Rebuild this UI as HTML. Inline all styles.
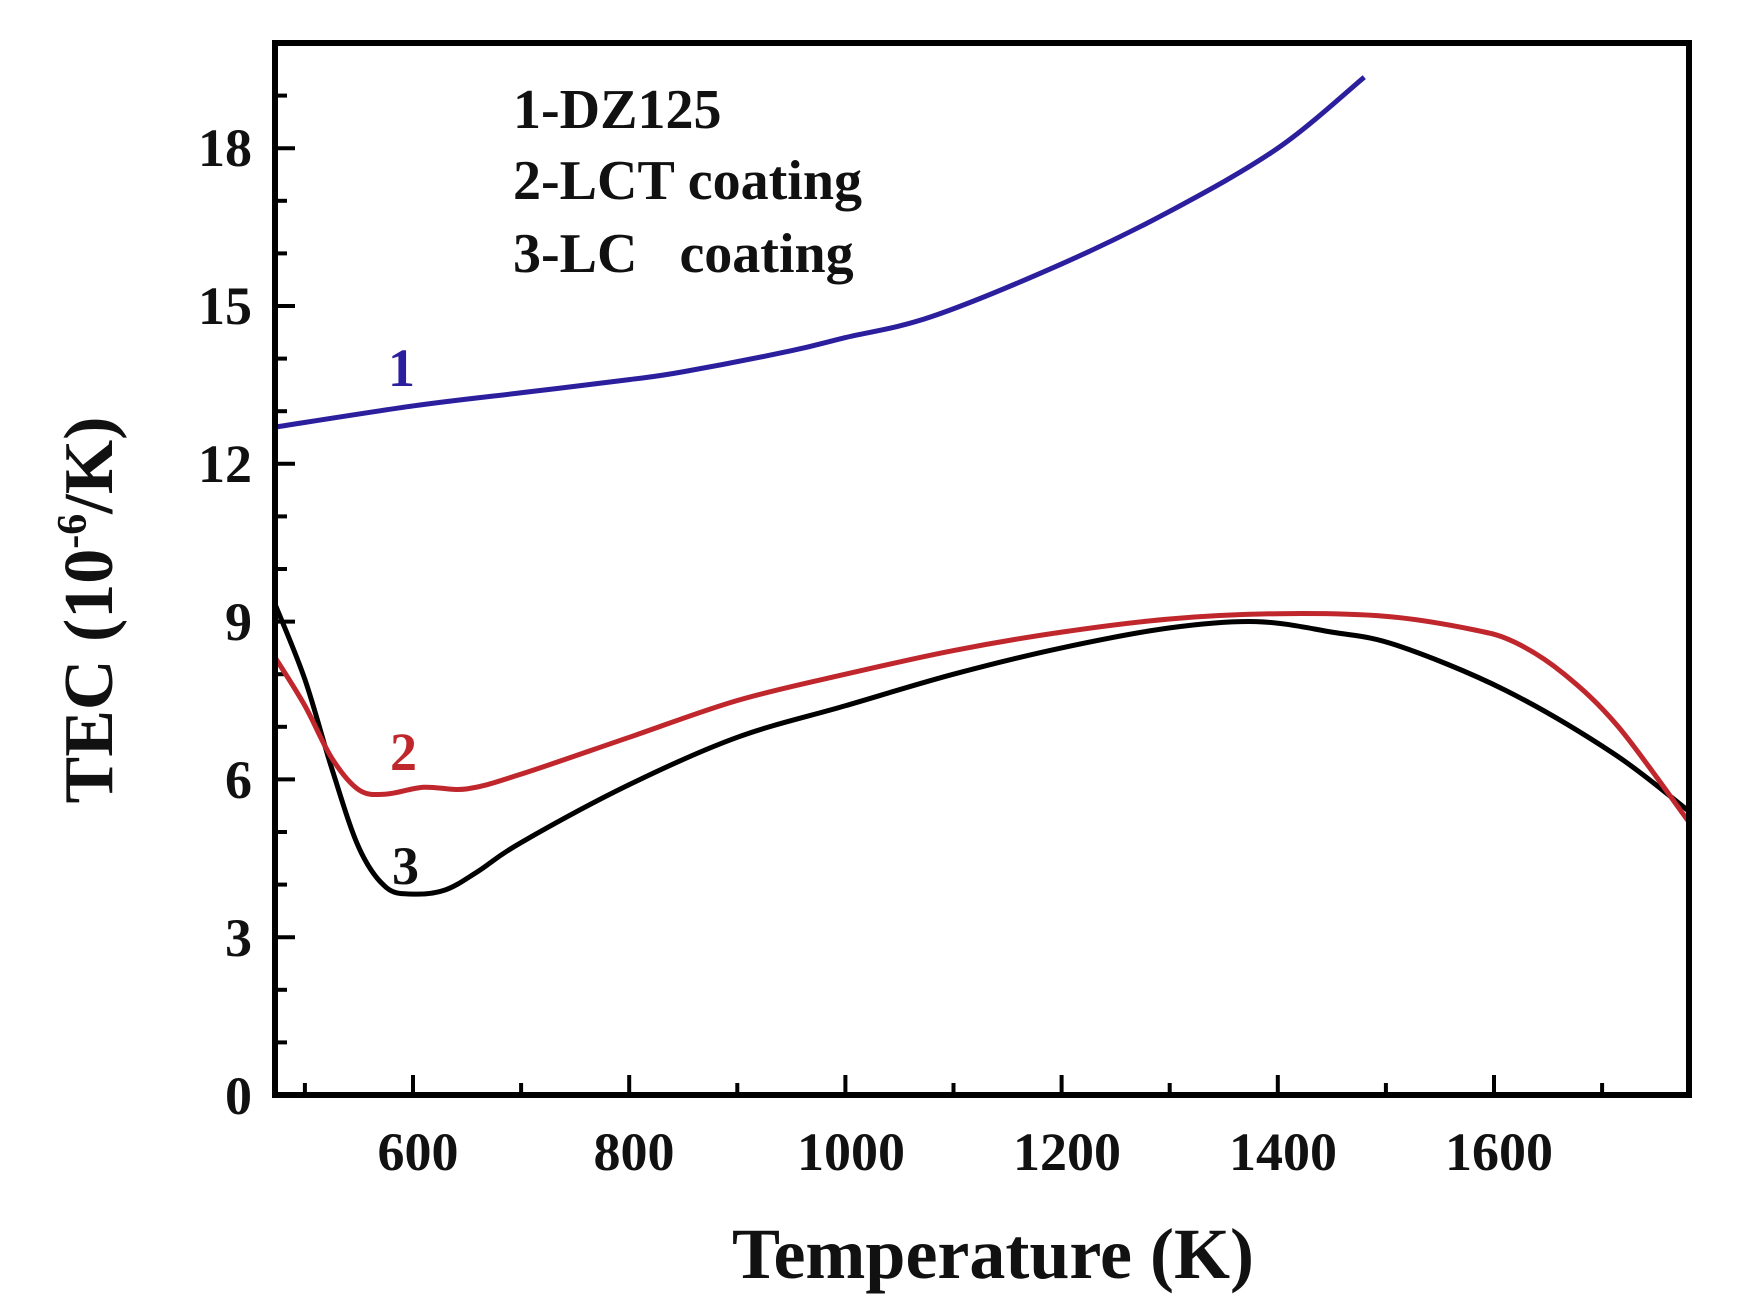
<!DOCTYPE html>
<html><head><meta charset="utf-8"><style>
html,body{margin:0;padding:0;background:#fff;}
svg{display:block;}
text{font-family:"Liberation Serif",serif;font-weight:bold;fill:#111;}
</style></head><body>
<svg id="s" width="1752" height="1311" viewBox="0 0 1752 1311" xmlns="http://www.w3.org/2000/svg">
<defs><clipPath id="cp"><rect x="275" y="43" width="1414" height="1052"/></clipPath></defs>
<rect x="0" y="0" width="1752" height="1311" fill="#fff"/>
<g id="ticks" stroke="#000" stroke-width="4"></g>
<g clip-path="url(#cp)">
<path id="c1" fill="none" stroke="#2b1f9e" stroke-width="5"/>
<path id="c3" fill="none" stroke="#000" stroke-width="5"/>
<path id="c2" fill="none" stroke="#c0272d" stroke-width="5"/>
</g>
<rect x="275" y="43" width="1414" height="1052" fill="none" stroke="#000" stroke-width="6"/>
<g font-size="54" text-anchor="end">
<text x="252" y="1114">0</text>
<text x="252" y="956">3</text>
<text x="252" y="798">6</text>
<text x="252" y="640">9</text>
<text x="252" y="482">12</text>
<text x="252" y="324">15</text>
<text x="252" y="166">18</text>
</g>
<g font-size="54" text-anchor="middle">
<text x="418" y="1170">600</text>
<text x="634" y="1170">800</text>
<text x="851" y="1170">1000</text>
<text x="1067" y="1170">1200</text>
<text x="1283" y="1170">1400</text>
<text x="1499" y="1170">1600</text>
</g>
<text x="993" y="1278" font-size="72" text-anchor="middle">Temperature (K)</text>
<text transform="translate(112,610) rotate(-90)" font-size="70" text-anchor="middle">TEC (10<tspan dy="-26" font-size="42">-6</tspan><tspan dy="26">/K)</tspan></text>
<g font-size="56">
<text x="513" y="128">1-DZ125</text>
<text x="513" y="199">2-LCT coating</text>
<text x="513" y="272">3-LC &#160;&#160;coating</text>
</g>
<text x="388" y="386" font-size="54" style="fill:#2b1f9e">1</text>
<text x="390" y="770" font-size="54" style="fill:#c0272d">2</text>
<text x="392" y="884" font-size="54">3</text>
</svg>
<script>
function X(t){return 413+(t-600)*1.081;}
function Y(v){return 1095-52.6*v;}
var tk=document.getElementById('ticks'),h='';
for(var t=500;t<=1700;t+=100){var x=X(t),L=(t%200==0)?20:12;h+='<line x1="'+x+'" y1="1095" x2="'+x+'" y2="'+(1095-L)+'"/>';}
for(var v=1;v<20;v++){var y=Y(v),L=(v%3==0)?20:12;h+='<line x1="275" y1="'+y+'" x2="'+(275+L)+'" y2="'+y+'"/>';}
tk.innerHTML=h;
function path(d){var p=d.map(function(a){return [X(a[0]),Y(a[1])];});
var s='M'+p[0][0]+','+p[0][1];
for(var i=0;i<p.length-1;i++){var p0=p[i-1]||p[i],p1=p[i],p2=p[i+1],p3=p[i+2]||p2;
s+=' C'+(p1[0]+(p2[0]-p0[0])/6)+','+(p1[1]+(p2[1]-p0[1])/6)+' '+(p2[0]-(p3[0]-p1[0])/6)+','+(p2[1]-(p3[1]-p1[1])/6)+' '+p2[0]+','+p2[1];}
return s;}
document.getElementById('c1').setAttribute('d',path([[473,12.7],[600,13.1],[700,13.35],[800,13.6],[850,13.75],[950,14.15],[1000,14.4],[1080,14.8],[1200,15.8],[1300,16.8],[1400,18.0],[1480,19.35]]));
document.getElementById('c2').setAttribute('d',path([[473,8.3],[500,7.4],[525,6.4],[550,5.8],[575,5.72],[610,5.85],[650,5.82],[700,6.1],[800,6.8],[900,7.5],[1000,8.0],[1100,8.45],[1200,8.8],[1300,9.05],[1400,9.15],[1500,9.1],[1580,8.85],[1620,8.6],[1665,8.0],[1715,7.0],[1780,5.2]]));
document.getElementById('c3').setAttribute('d',path([[473,9.3],[500,7.9],[525,6.2],[550,4.7],[575,3.95],[600,3.82],[630,3.9],[660,4.25],[700,4.8],[800,5.9],[900,6.8],[1000,7.4],[1100,8.0],[1200,8.5],[1300,8.88],[1380,9.0],[1450,8.8],[1510,8.55],[1610,7.7],[1710,6.5],[1780,5.4]]));
</script>
</body></html>
